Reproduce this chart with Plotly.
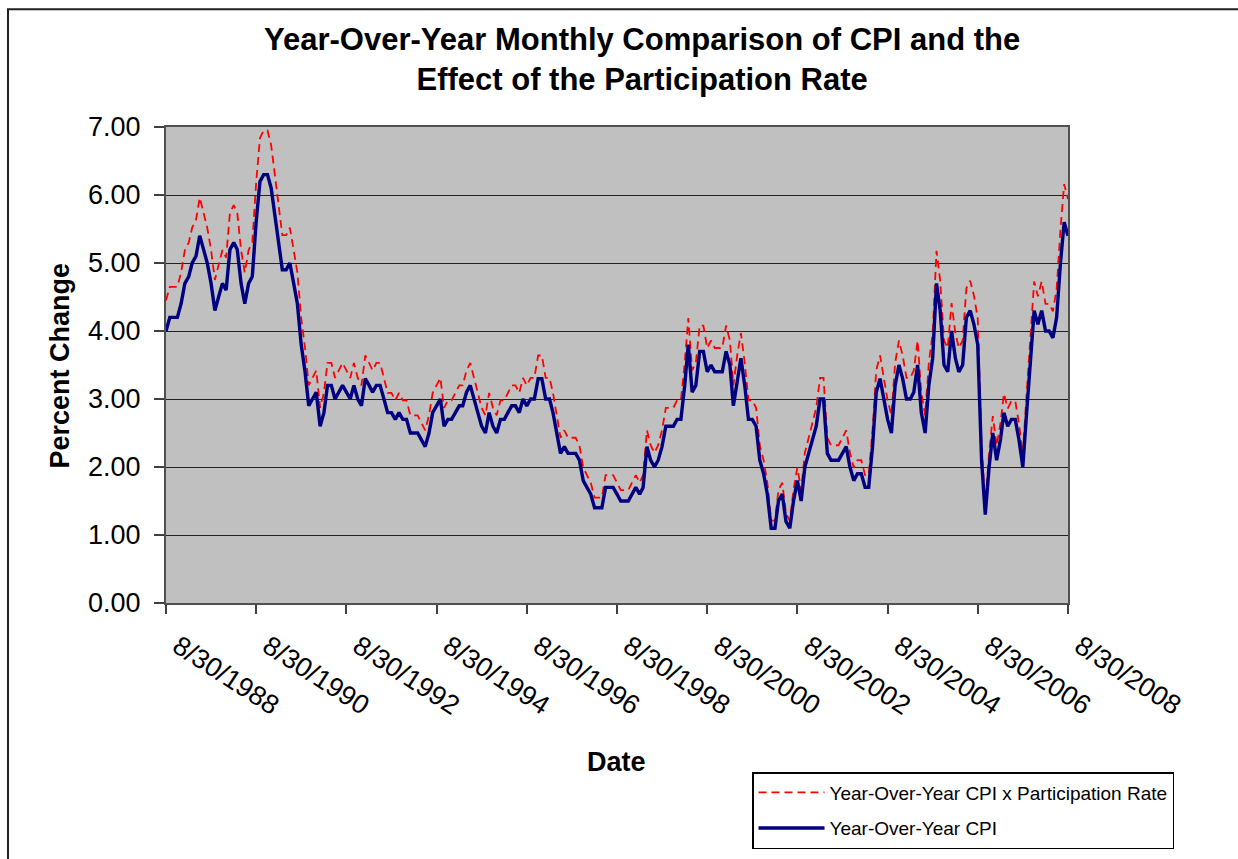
import pandas as pd
import plotly.graph_objects as go

# Monthly observations, Aug 1988 .. Aug 2008
start_month = "1988-08-01"
n_months = 241

cpi_yoy = [
    4.0, 4.2, 4.2, 4.2, 4.4,
    4.7, 4.8, 5.0, 5.1, 5.4, 5.2, 5.0, 4.7, 4.3, 4.5, 4.7, 4.6,
    5.2, 5.3, 5.2, 4.7, 4.4, 4.7, 4.8, 5.6, 6.2, 6.3, 6.3, 6.1,
    5.7, 5.3, 4.9, 4.9, 5.0, 4.7, 4.4, 3.8, 3.4, 2.9, 3.0, 3.1,
    2.6, 2.8, 3.2, 3.2, 3.0, 3.1, 3.2, 3.1, 3.0, 3.2, 3.0, 2.9,
    3.3, 3.2, 3.1, 3.2, 3.2, 3.0, 2.8, 2.8, 2.7, 2.8, 2.7, 2.7,
    2.5, 2.5, 2.5, 2.4, 2.3, 2.5, 2.8, 2.9, 3.0, 2.6, 2.7, 2.7,
    2.8, 2.9, 2.9, 3.1, 3.2, 3.0, 2.8, 2.6, 2.5, 2.8, 2.6, 2.5,
    2.7, 2.7, 2.8, 2.9, 2.9, 2.8, 3.0, 2.9, 3.0, 3.0, 3.3, 3.3,
    3.0, 3.0, 2.8, 2.5, 2.2, 2.3, 2.2, 2.2, 2.2, 2.1, 1.8, 1.7,
    1.6, 1.4, 1.4, 1.4, 1.7, 1.7, 1.7, 1.6, 1.5, 1.5, 1.5, 1.6,
    1.7, 1.6, 1.7, 2.3, 2.1, 2.0, 2.1, 2.3, 2.6, 2.6, 2.6, 2.7,
    2.7, 3.2, 3.8, 3.1, 3.2, 3.7, 3.7, 3.4, 3.5, 3.4, 3.4, 3.4,
    3.7, 3.5, 2.9, 3.3, 3.6, 3.2, 2.7, 2.7, 2.6, 2.1, 1.9, 1.6,
    1.1, 1.1, 1.5, 1.6, 1.2, 1.1, 1.5, 1.8, 1.5, 2.0, 2.2, 2.4,
    2.6, 3.0, 3.0, 2.2, 2.1, 2.1, 2.1, 2.2, 2.3, 2.0, 1.8, 1.9,
    1.9, 1.7, 1.7, 2.3, 3.1, 3.3, 3.0, 2.7, 2.5, 3.2, 3.5, 3.3,
    3.0, 3.0, 3.1, 3.5, 2.8, 2.5, 3.2, 3.6, 4.7, 4.3, 3.5, 3.4,
    4.0, 3.6, 3.4, 3.5, 4.2, 4.3, 4.1, 3.8, 2.1, 1.3, 2.0, 2.5,
    2.1, 2.4, 2.8, 2.6, 2.7, 2.7, 2.4, 2.0, 2.8, 3.5, 4.3, 4.1,
    4.3, 4.0, 4.0, 3.9, 4.2, 5.0, 5.6, 5.4,
]

cpi_x_participation = [
    4.45, 4.65, 4.65, 4.65, 4.86,
    5.19, 5.30, 5.52, 5.63, 5.96, 5.74, 5.52, 5.19, 4.75, 4.97, 5.19, 5.08,
    5.74, 5.85, 5.74, 5.19, 4.86, 5.19, 5.30, 6.18, 6.84, 6.95, 6.95, 6.73,
    6.29, 5.85, 5.41, 5.41, 5.52, 5.19, 4.86, 4.19, 3.75, 3.20, 3.31, 3.42,
    2.87, 3.09, 3.53, 3.53, 3.31, 3.42, 3.53, 3.42, 3.31, 3.53, 3.31, 3.20,
    3.64, 3.53, 3.42, 3.53, 3.53, 3.31, 3.09, 3.09, 2.98, 3.09, 2.98, 2.98,
    2.76, 2.76, 2.76, 2.65, 2.54, 2.76, 3.09, 3.20, 3.31, 2.87, 2.98, 2.98,
    3.09, 3.20, 3.20, 3.42, 3.53, 3.31, 3.09, 2.87, 2.76, 3.09, 2.87, 2.76,
    2.98, 2.98, 3.09, 3.20, 3.20, 3.09, 3.31, 3.20, 3.31, 3.31, 3.64, 3.64,
    3.31, 3.31, 3.09, 2.76, 2.43, 2.54, 2.43, 2.43, 2.43, 2.32, 1.99, 1.88,
    1.77, 1.55, 1.55, 1.55, 1.88, 1.88, 1.88, 1.77, 1.66, 1.66, 1.66, 1.77,
    1.88, 1.77, 1.88, 2.54, 2.32, 2.21, 2.32, 2.54, 2.87, 2.87, 2.87, 2.98,
    2.98, 3.53, 4.19, 3.42, 3.53, 4.08, 4.08, 3.75, 3.86, 3.75, 3.75, 3.75,
    4.08, 3.86, 3.20, 3.64, 3.97, 3.53, 2.98, 2.98, 2.87, 2.32, 2.10, 1.77,
    1.21, 1.21, 1.66, 1.77, 1.32, 1.21, 1.66, 1.99, 1.66, 2.21, 2.43, 2.65,
    2.87, 3.31, 3.31, 2.43, 2.32, 2.32, 2.32, 2.43, 2.54, 2.21, 1.99, 2.10,
    2.10, 1.88, 1.88, 2.54, 3.42, 3.64, 3.31, 2.98, 2.76, 3.53, 3.86, 3.64,
    3.31, 3.31, 3.42, 3.86, 3.09, 2.76, 3.53, 3.97, 5.18, 4.74, 3.86, 3.75,
    4.41, 3.97, 3.75, 3.86, 4.63, 4.74, 4.52, 4.19, 2.31, 1.43, 2.20, 2.75,
    2.31, 2.64, 3.08, 2.86, 2.97, 2.97, 2.64, 2.20, 3.08, 3.85, 4.73, 4.51,
    4.73, 4.40, 4.40, 4.29, 4.62, 5.50, 6.16, 5.94,
]

tick_dates = ["1988-08-01", "1990-08-01", "1992-08-01", "1994-08-01", "1996-08-01",
              "1998-08-01", "2000-08-01", "2002-08-01", "2004-08-01", "2006-08-01",
              "2008-08-01"]
tick_labels = ["8/30/1988", "8/30/1990", "8/30/1992", "8/30/1994", "8/30/1996",
               "8/30/1998", "8/30/2000", "8/30/2002", "8/30/2004", "8/30/2006",
               "8/30/2008"]

series_red_name = "Year-Over-Year CPI x Participation Rate"
series_blue_name = "Year-Over-Year CPI"
title_text = "Year-Over-Year Monthly Comparison of CPI and the<br>Effect of the Participation Rate"

dates = pd.date_range(start=start_month, periods=n_months, freq="MS")

FONT = "Arial, Liberation Sans, sans-serif"
W, H = 1238, 859
L, R, T, B = 166, 1068, 127, 604
pw, ph = R - L, B - T


def px(x):
    return (x - L) / pw


def py(y):
    return (B - y) / ph


fig = go.Figure()
fig.add_trace(go.Scatter(
    x=dates, y=cpi_x_participation, mode="lines", name=series_red_name,
    legendgroup="a",
    line=dict(color="#FF0000", width=1.8, dash="8px,5px"),
))
fig.add_trace(go.Scatter(
    x=dates, y=cpi_yoy, mode="lines", name=series_blue_name,
    legendgroup="b",
    line=dict(color="#000080", width=3.4),
))

fig.update_layout(
    width=W, height=H,
    margin=dict(l=L, r=W - R, t=T, b=H - B, pad=0),
    paper_bgcolor="white",
    plot_bgcolor="#C0C0C0",
    font=dict(family=FONT, color="black"),
    showlegend=True,
    legend=dict(
        x=px(752), y=py(772), xanchor="left", yanchor="top",
        bordercolor="black", borderwidth=1.5, bgcolor="white",
        font=dict(size=19, family=FONT),
        tracegroupgap=8, itemwidth=66,
    ),
    xaxis=dict(
        type="date",
        range=[dates[0], dates[-1]],
        tickvals=tick_dates, ticktext=tick_labels,
        tickangle=33,
        tickfont=dict(size=27),
        ticks="outside", ticklen=9, tickcolor="#404040", tickwidth=1.5,
        showgrid=False, zeroline=False,
        showline=True, linecolor="#505050", linewidth=2, mirror=True,
        ticklabelstandoff=6, ticklabelshift=12,
    ),
    yaxis=dict(
        range=[0, 7], dtick=1, tickformat=".2f",
        tickfont=dict(size=27),
        ticks="outside", ticklen=10, tickcolor="#404040", tickwidth=1.5,
        showgrid=True, gridcolor="#222222", gridwidth=1.2,
        zeroline=False,
        showline=True, linecolor="#505050", linewidth=2, mirror=True,
        ticklabelstandoff=8,
    ),
    annotations=[
        dict(text="<b>" + title_text + "</b>", x=px(642), y=py(59), xref="paper", yref="paper",
             xanchor="center", yanchor="middle", showarrow=False,
             font=dict(size=31, family=FONT)),
        dict(text="<b>Percent Change</b>", x=px(60), y=py(366), xref="paper", yref="paper",
             xanchor="center", yanchor="middle", showarrow=False, textangle=-90,
             font=dict(size=27, family=FONT)),
        dict(text="<b>Date</b>", x=px(616), y=py(763), xref="paper", yref="paper",
             xanchor="center", yanchor="middle", showarrow=False,
             font=dict(size=27, family=FONT)),
    ],
    shapes=[
        dict(type="rect", xref="paper", yref="paper",
             x0=px(8), x1=px(1300), y0=py(900), y1=py(9),
             line=dict(color="#202020", width=2), fillcolor="rgba(0,0,0,0)", layer="below"),
    ],
)

fig.write_html(
    "out.html",
    config={"displayModeBar": False},
    post_script="document.body.style.margin='0';document.body.style.overflow='hidden';",
)
